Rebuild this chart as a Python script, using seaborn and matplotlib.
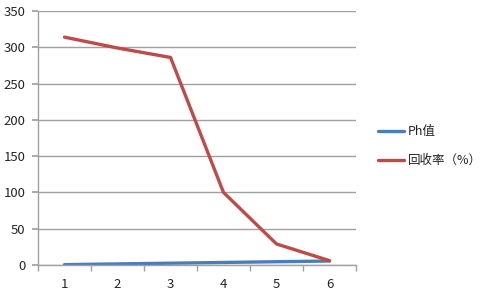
import pandas as pd
import matplotlib
matplotlib.use("Agg")
import matplotlib.pyplot as plt
import seaborn as sns

# data
x_labels = [1, 2, 3, 4, 5, 6]
ph_values = [0.5, 1.5, 2.5, 3.5, 4.5, 5.5]
recovery = [314, 299, 286, 100, 29, 6]
series_names = ["Ph值", "回收率（%）"]

df = pd.DataFrame({
    "x": x_labels * 2,
    "value": ph_values + recovery,
    "series": [series_names[0]] * 6 + [series_names[1]] * 6,
})

sns.set_theme(style="white")
plt.rcParams['font.family'] = ['Noto Sans CJK SC', 'DejaVu Sans']

fig = plt.figure(figsize=(4.84, 2.92), dpi=100)
ax = fig.add_axes([38 / 484, 1 - 265 / 292, (356 - 38) / 484, (265 - 11) / 292])

palette = {series_names[0]: "#4a7ebb", series_names[1]: "#be4b48"}
sns.lineplot(data=df, x="x", y="value", hue="series", palette=palette,
             linewidth=2.4, ax=ax, legend=False)

ax.set_xlim(0.5, 6.5)
ax.set_ylim(0, 350)
ax.set_yticks(range(0, 351, 50))
ax.set_xticks(x_labels)
ax.set_xticks([i + 0.5 for i in range(0, 7)], minor=True)
ax.set_xlabel("")
ax.set_ylabel("")

ax.grid(axis="y", color="#a0a0a0", linewidth=1)
ax.set_axisbelow(True)
for s in ["top", "right"]:
    ax.spines[s].set_visible(False)
for s in ["left", "bottom"]:
    ax.spines[s].set_color("#a0a0a0")
    ax.spines[s].set_linewidth(1)

ax.tick_params(axis="y", which="major", left=True, length=4, color="#a0a0a0",
               labelsize=9.5, pad=5)
ax.tick_params(axis="x", which="major", bottom=False, labelsize=9.5, pad=3)
ax.tick_params(axis="x", which="minor", bottom=True, length=4, color="#a0a0a0")

handles = [plt.Line2D([], [], color=palette[n], linewidth=2.4) for n in series_names]
fig.legend(handles, series_names, loc="center left", bbox_to_anchor=(378 / 484, 1 - 146 / 292),
           frameon=False, fontsize=9, handlelength=2.1, handletextpad=0.3,
           labelspacing=1.3, borderaxespad=0, borderpad=0)

fig.savefig("out.png", dpi=100)
